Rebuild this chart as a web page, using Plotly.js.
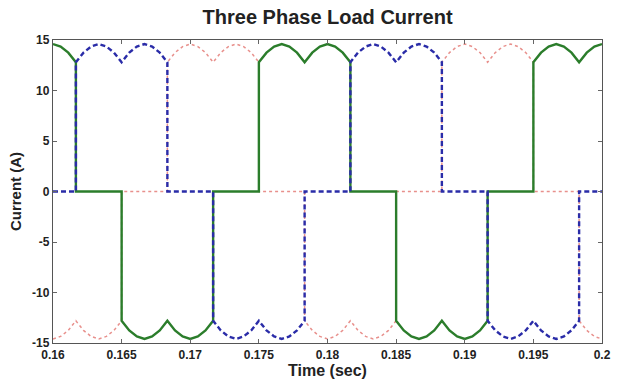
<!DOCTYPE html>
<html>
<head>
<meta charset="utf-8">
<script src="https://cdn.plot.ly/plotly-3.0.1.min.js"></script>
<style>html,body{margin:0;padding:0;background:#fff;}#chart{width:624px;height:383px;}</style>
</head>
<body>
<div id="chart"></div>
<script>
// Shared time samples (s); transition instants appear twice (vertical steps)
var time = [
  0.16, 0.160556, 0.161111, 0.161667,
  0.161667, 0.162222, 0.162778, 0.163333, 0.163889, 0.164444, 0.165,
  0.165, 0.165556, 0.166111, 0.166667, 0.167222, 0.167778, 0.168333,
  0.168333, 0.168889, 0.169444, 0.17, 0.170556, 0.171111, 0.171667,
  0.171667, 0.172222, 0.172778, 0.173333, 0.173889, 0.174444, 0.175,
  0.175, 0.175556, 0.176111, 0.176667, 0.177222, 0.177778, 0.178333,
  0.178333, 0.178889, 0.179444, 0.18, 0.180556, 0.181111, 0.181667,
  0.181667, 0.182222, 0.182778, 0.183333, 0.183889, 0.184444, 0.185,
  0.185, 0.185556, 0.186111, 0.186667, 0.187222, 0.187778, 0.188333,
  0.188333, 0.188889, 0.189444, 0.19, 0.190556, 0.191111, 0.191667,
  0.191667, 0.192222, 0.192778, 0.193333, 0.193889, 0.194444, 0.195,
  0.195, 0.195556, 0.196111, 0.196667, 0.197222, 0.197778, 0.198333,
  0.198333, 0.198889, 0.199444, 0.2
];
// Phase currents (A)
var phaseA = [ // green solid
  14.6, 14.35, 13.75, 12.8,
  0, 0, 0, 0, 0, 0, 0,
  -12.8, -13.75, -14.35, -14.6, -14.35, -13.75, -12.8,
  -12.8, -13.75, -14.35, -14.6, -14.35, -13.75, -12.8,
  0, 0, 0, 0, 0, 0, 0,
  12.8, 13.75, 14.35, 14.6, 14.35, 13.75, 12.8,
  12.8, 13.75, 14.35, 14.6, 14.35, 13.75, 12.8,
  0, 0, 0, 0, 0, 0, 0,
  -12.8, -13.75, -14.35, -14.6, -14.35, -13.75, -12.8,
  -12.8, -13.75, -14.35, -14.6, -14.35, -13.75, -12.8,
  0, 0, 0, 0, 0, 0, 0,
  12.8, 13.75, 14.35, 14.6, 14.35, 13.75, 12.8,
  12.8, 13.75, 14.35, 14.6
];
var phaseB = [ // blue dashed
  0, 0, 0, 0,
  12.8, 13.75, 14.35, 14.6, 14.35, 13.75, 12.8,
  12.8, 13.75, 14.35, 14.6, 14.35, 13.75, 12.8,
  0, 0, 0, 0, 0, 0, 0,
  -12.8, -13.75, -14.35, -14.6, -14.35, -13.75, -12.8,
  -12.8, -13.75, -14.35, -14.6, -14.35, -13.75, -12.8,
  0, 0, 0, 0, 0, 0, 0,
  12.8, 13.75, 14.35, 14.6, 14.35, 13.75, 12.8,
  12.8, 13.75, 14.35, 14.6, 14.35, 13.75, 12.8,
  0, 0, 0, 0, 0, 0, 0,
  -12.8, -13.75, -14.35, -14.6, -14.35, -13.75, -12.8,
  -12.8, -13.75, -14.35, -14.6, -14.35, -13.75, -12.8,
  0, 0, 0, 0
];
var phaseC = [ // red dotted
  -14.6, -14.35, -13.75, -12.8,
  -12.8, -13.75, -14.35, -14.6, -14.35, -13.75, -12.8,
  0, 0, 0, 0, 0, 0, 0,
  12.8, 13.75, 14.35, 14.6, 14.35, 13.75, 12.8,
  12.8, 13.75, 14.35, 14.6, 14.35, 13.75, 12.8,
  0, 0, 0, 0, 0, 0, 0,
  -12.8, -13.75, -14.35, -14.6, -14.35, -13.75, -12.8,
  -12.8, -13.75, -14.35, -14.6, -14.35, -13.75, -12.8,
  0, 0, 0, 0, 0, 0, 0,
  12.8, 13.75, 14.35, 14.6, 14.35, 13.75, 12.8,
  12.8, 13.75, 14.35, 14.6, 14.35, 13.75, 12.8,
  0, 0, 0, 0, 0, 0, 0,
  -12.8, -13.75, -14.35, -14.6
];
var xTickVals = [0.16, 0.165, 0.17, 0.175, 0.18, 0.185, 0.19, 0.195, 0.2];
var xTickText = ['0.16', '0.165', '0.17', '0.175', '0.18', '0.185', '0.19', '0.195', '0.2'];
var yTickVals = [-15, -10, -5, 0, 5, 10, 15];
var yTickText = ['-15', '-10', '-5', '0', '5', '10', '15'];

var FONT = '"Liberation Sans Narrow", "Liberation Sans", Arial, sans-serif';

var traces = [
  {x: time, y: phaseC, mode: 'lines', line: {color: '#e8908c', width: 1.5, dash: 'dot'}, name: 'C'},
  {x: time, y: phaseA, mode: 'lines', line: {color: '#2b7d2b', width: 2.4}, name: 'A'},
  {x: time, y: phaseB, mode: 'lines', line: {color: '#2a2ca8', width: 2.4, dash: '5px,3px'}, name: 'B'}
];

var axisCommon = {
  showgrid: false, zeroline: false,
  showline: true, linecolor: '#555', linewidth: 1.2, mirror: 'ticks',
  ticks: 'inside', ticklen: 4, tickcolor: '#666', tickwidth: 1,
  tickfont: {family: FONT, size: 12, color: '#222', weight: 'bold'}
};

var layout = {
  width: 624, height: 383,
  margin: {l: 53, r: 22, t: 40, b: 40},
  paper_bgcolor: '#fff', plot_bgcolor: '#fff',
  showlegend: false,
  title: {text: 'Three Phase Load Current', x: 0.525, xanchor: 'center', y: 0.955, yanchor: 'middle',
          font: {family: FONT, size: 20, color: '#222', weight: 'bold'}},
  xaxis: Object.assign({}, axisCommon, {
    range: [0.16, 0.2], tickvals: xTickVals, ticktext: xTickText,
    title: {text: 'Time (sec)', standoff: 2, font: {family: FONT, size: 16, color: '#222', weight: 'bold'}}
  }),
  yaxis: Object.assign({}, axisCommon, {
    range: [-15, 15], tickvals: yTickVals, ticktext: yTickText,
    title: {text: 'Current (A)', standoff: 6, font: {family: FONT, size: 15, color: '#222', weight: 'bold'}}
  })
};

Plotly.newPlot('chart', traces, layout, {staticPlot: true, displayModeBar: false});
</script>
</body>
</html>
